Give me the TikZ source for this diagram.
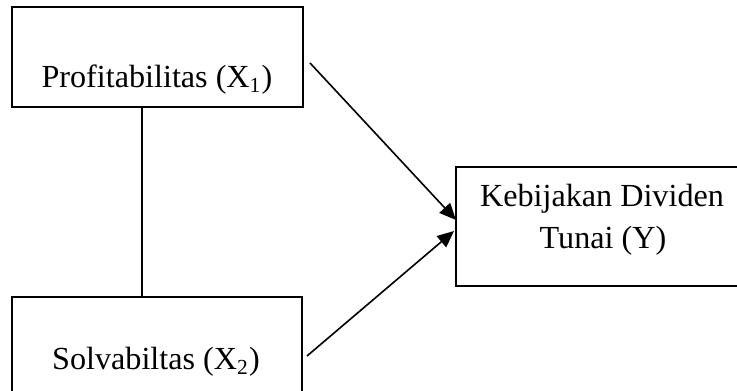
\documentclass[tikz,border=0pt]{standalone}
\usepackage{fontspec}
\setmainfont{Liberation Serif}
\usetikzlibrary{arrows.meta}
\begin{document}
\begin{tikzpicture}[x=0.3731pt,y=-0.3731pt,
  box/.style={draw,line width=0.65pt,inner sep=0pt},
  lbl/.style={font=\fontsize{12}{15.7}\selectfont,inner sep=0pt,anchor=base},
  link/.style={line width=0.6pt},
  arr/.style={line width=0.6pt,-{Triangle[length=6.2pt,width=5.4pt]}}]
\clip (0,0) rectangle (737,391);
\useasboundingbox (0,0) rectangle (737,391);
\node[box,minimum width=108.6pt,minimum height=37.3pt] (p) at (157.5,57) {};
\node[box,minimum width=108.2pt,minimum height=45.5pt] (s) at (157,358) {};
\node[box,minimum width=113.4pt,minimum height=44.4pt] (k) at (608,226.5) {};
\node[lbl] (pt) at (157,88) {Profitabilitas (X\textsubscript{1})};
\node[lbl] (st) at (156,370) {Solvabiltas (X\textsubscript{2})};
\node[lbl] (kt1) at (602,207) {Kebijakan Dividen};
\node[lbl] (kt2) at (603,249) {Tunai (Y)};
\coordinate (vl) at (142,0);
\draw[link] (p.south -| vl) -- (s.north -| vl);
\coordinate (a1s) at (310,63);
\coordinate (a1e) at (456,220);
\coordinate (a2s) at (307,356);
\coordinate (a2e) at (454,231);
\draw[arr] (a1s) -- (a1e);
\draw[arr] (a2s) -- (a2e);
\end{tikzpicture}
\end{document}
